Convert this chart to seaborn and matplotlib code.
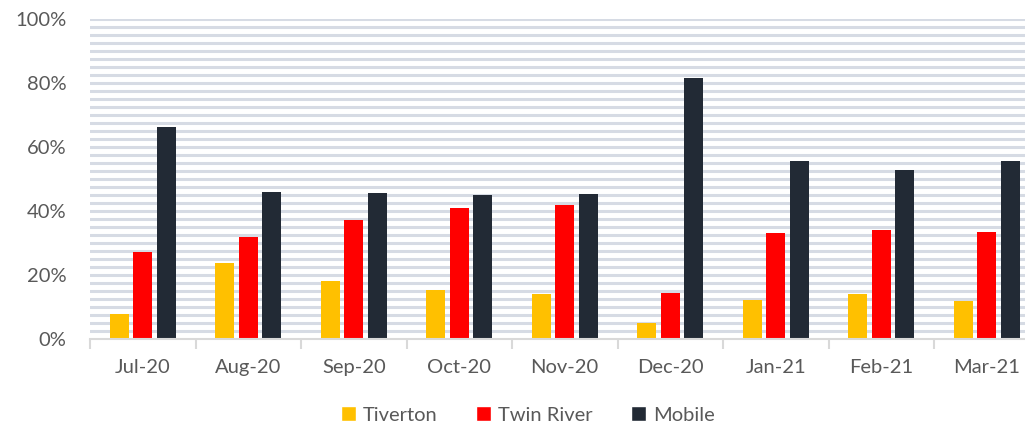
import matplotlib
matplotlib.use("Agg")
import matplotlib.pyplot as plt
from matplotlib.ticker import MultipleLocator, FuncFormatter, FixedLocator
from matplotlib.patches import Patch
import seaborn as sns
import pandas as pd

months = ["Jul-20", "Aug-20", "Sep-20", "Oct-20", "Nov-20", "Dec-20", "Jan-21", "Feb-21", "Mar-21"]
tiverton = [7.7, 23.5, 18.1, 15.1, 13.9, 4.9, 12.0, 13.9, 11.8]
twin_river = [27.0, 31.7, 37.2, 40.8, 41.7, 14.2, 33.0, 34.0, 33.2]
mobile = [66.1, 45.7, 45.6, 44.8, 45.3, 81.4, 55.6, 52.8, 55.6]
series = ["Tiverton", "Twin River", "Mobile"]
colors = ["#FFC000", "#FF0000", "#222A35"]

rows = []
for name, vals in zip(series, [tiverton, twin_river, mobile]):
    for m, v in zip(months, vals):
        rows.append({"month": m, "series": name, "value": v})
df = pd.DataFrame(rows)

sns.set_theme(style="white")
plt.rcParams["font.family"] = ["Lato", "DejaVu Sans"]

fig = plt.figure(figsize=(10.25, 4.28), dpi=100)
ax = fig.add_axes([90 / 1025, 89.5 / 428, 949.5 / 1025, 319.5 / 428])

sns.barplot(data=df, x="month", y="value", hue="series", order=months,
            hue_order=series, palette=colors, width=0.67, gap=0.2,
            saturation=1, ax=ax, legend=False, zorder=3, linewidth=0)

ax.set_xlim(-0.5, len(months) - 0.5)
ax.set_ylim(0, 100)
ax.yaxis.set_major_locator(MultipleLocator(20))
ax.yaxis.set_minor_locator(MultipleLocator(2.5))
ax.yaxis.set_major_formatter(FuncFormatter(lambda v, p: f"{v:.0f}%"))
ax.grid(False)
ax.set_axisbelow(True)
for yv in [i * 2.5 for i in range(1, 41)]:
    ax.axhline(yv, color="#D6DBE4", lw=2.2, zorder=0)

for s in ["top", "right", "left"]:
    ax.spines[s].set_visible(False)
ax.spines["bottom"].set_color("#D9D9D9")
ax.spines["bottom"].set_linewidth(1.5)
ax.spines["bottom"].set_zorder(4)

ax.xaxis.set_minor_locator(FixedLocator([i - 0.5 for i in range(len(months) + 1)]))
ax.tick_params(axis="x", which="major", length=0, pad=15, labelsize=14.5, labelcolor="#595959")
ax.tick_params(axis="x", which="minor", length=7, width=1.5, color="#D9D9D9", bottom=True)
ax.tick_params(axis="y", which="both", length=0, pad=17, labelsize=14.5, labelcolor="#595959")
ax.set_xlabel("")
ax.set_ylabel("")

handles = [Patch(facecolor=c, label=s) for s, c in zip(series, colors)]
fig.legend(handles=handles, loc="center", bbox_to_anchor=(528 / 1025, 1 - 415 / 428),
           ncol=3, frameon=False, handlelength=0.75, handleheight=0.75,
           handletextpad=0.35, columnspacing=1.9, fontsize=14.5, labelcolor="#595959")

fig.savefig("out.png", dpi=100)
